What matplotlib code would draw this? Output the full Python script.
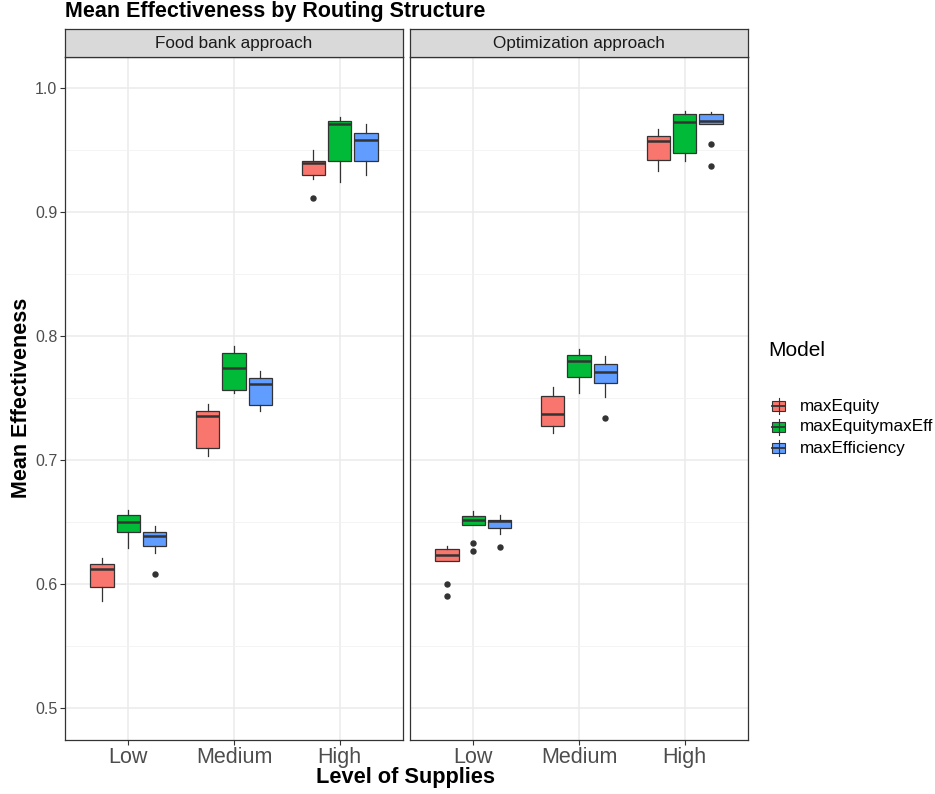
import matplotlib
matplotlib.use("Agg")
import matplotlib.pyplot as plt
from matplotlib.patches import Rectangle
from matplotlib.lines import Line2D

plt.rcParams['font.family'] = ['Liberation Sans', 'DejaVu Sans']

# ---- data ----
panels = ["Food bank approach", "Optimization approach"]
levels = ["Low", "Medium", "High"]
models = ["maxEquity", "maxEquitymaxEff", "maxEfficiency"]
colors = ["#F8766D", "#00BA38", "#619CFF"]

# each list indexed [level][model]
fb_whislo = [[0.586, 0.629, 0.6245], [0.703, 0.754, 0.7395], [0.927, 0.924, 0.930]]
fb_q1     = [[0.597, 0.6417, 0.6304], [0.7094, 0.7565, 0.7441], [0.9296, 0.9414, 0.941]]
fb_med    = [[0.6121, 0.6498, 0.6382], [0.735, 0.7745, 0.7613], [0.940, 0.9713, 0.958]]
fb_q3     = [[0.6159, 0.6554, 0.642], [0.7393, 0.7863, 0.7659], [0.9414, 0.9734, 0.964]]
fb_whishi = [[0.6204, 0.6597, 0.6465], [0.7452, 0.7919, 0.772], [0.950, 0.9764, 0.971]]
fb_fliers = [[[], [], [0.6078]], [[], [], []], [[0.9116], [], []]]

op_whislo = [[0.618, 0.6473, 0.6398], [0.7213, 0.754, 0.7511], [0.9334, 0.9411, 0.9713]]
op_q1     = [[0.618, 0.6473, 0.645], [0.7272, 0.7667, 0.7624], [0.9423, 0.9476, 0.9713]]
op_med    = [[0.6229, 0.6512, 0.6503], [0.7371, 0.7801, 0.7713], [0.9578, 0.9724, 0.9734]]
op_q3     = [[0.6277, 0.6546, 0.6514], [0.7519, 0.7847, 0.7774], [0.9618, 0.9793, 0.9793]]
op_whishi = [[0.6306, 0.6584, 0.6554], [0.7586, 0.7893, 0.7836], [0.9672, 0.9817, 0.981]]
op_fliers = [[[0.5997, 0.5903], [0.6328, 0.6261], [0.6296]], [[], [], [0.7336]], [[], [], [0.9554, 0.9371]]]

panel_stats = [
    (fb_whislo, fb_q1, fb_med, fb_q3, fb_whishi, fb_fliers),
    (op_whislo, op_q1, op_med, op_q3, op_whishi, op_fliers),
]

yticks = [0.5, 0.6, 0.7, 0.8, 0.9, 1.0]
yminor = [0.55, 0.65, 0.75, 0.85, 0.95]

# ---- figure ----
W, H = 935, 794
fig = plt.figure(figsize=(W / 100, H / 100), dpi=100)

def fx(px):
    return px / W

def fy(py):
    return 1 - py / H

edge = "#333333"
grid_major = "#EBEBEB"
panel_lefts = [65, 410]
panel_w = 338
top_px, bot_px = 57.3, 739.5
strip_top = 29.3

offsets = [-0.25, 0.0, 0.25]
box_w = 0.22

axes = []
for p, (wlo, q1, med, q3, whi, fl) in enumerate(panel_stats):
    ax = fig.add_axes([fx(panel_lefts[p]), fy(bot_px), fx(panel_w), (bot_px - top_px) / H])
    axes.append(ax)
    ax.set_xlim(0.4, 3.6)
    ax.set_ylim(0.4742, 1.0250)
    ax.set_yticks(yticks)
    ax.set_yticks(yminor, minor=True)
    ax.set_xticks([1, 2, 3])
    ax.set_xticklabels(levels)
    ax.grid(True, which="major", color=grid_major, linewidth=1.1, zorder=0)
    ax.grid(True, which="minor", axis="y", color="#F2F2F2", linewidth=0.6, zorder=0)
    ax.set_axisbelow(True)
    for s in ax.spines.values():
        s.set_color(edge)
        s.set_linewidth(0.9)
    ax.tick_params(axis="both", which="major", color=edge, length=3.5, width=0.8,
                   labelcolor="#4D4D4D")
    ax.tick_params(axis="y", which="minor", length=0)
    ax.tick_params(axis="x", labelsize=15.5, pad=2)
    ax.tick_params(axis="y", labelsize=11.5, pad=2)
    if p == 1:
        ax.tick_params(axis="y", which="both", left=False, labelleft=False)

    for li in range(len(levels)):
        for mi in range(len(models)):
            st = dict(whislo=wlo[li][mi], q1=q1[li][mi], med=med[li][mi],
                      q3=q3[li][mi], whishi=whi[li][mi], fliers=fl[li][mi])
            ax.bxp([st], positions=[li + 1 + offsets[mi]], widths=box_w,
                   patch_artist=True, showcaps=False, manage_ticks=False,
                   boxprops=dict(facecolor=colors[mi], edgecolor=edge, linewidth=0.9),
                   whiskerprops=dict(color=edge, linewidth=0.9),
                   medianprops=dict(color=edge, linewidth=1.8),
                   flierprops=dict(marker="o", markerfacecolor=edge, markeredgecolor=edge,
                                   markersize=3.6, linestyle="none"))

    # strip
    sax = fig.add_axes([fx(panel_lefts[p]), fy(top_px), fx(panel_w), (top_px - strip_top) / H])
    sax.set_facecolor("#D9D9D9")
    sax.set_xticks([])
    sax.set_yticks([])
    for s in sax.spines.values():
        s.set_color(edge)
        s.set_linewidth(0.9)
    sax.text(0.5, 0.5, panels[p], ha="center", va="center", fontsize=12.3,
             color="#1A1A1A", transform=sax.transAxes)

# titles
fig.text(fx(65), fy(12), "Mean Effectiveness by Routing Structure", ha="left", va="center",
         fontsize=15.5, fontweight="bold", color="black")
fig.text(fx(406), fy(778), "Level of Supplies", ha="center", va="center",
         fontsize=15.7, fontweight="bold", color="black")
fig.text(fx(22), fy(398), "Mean Effectiveness", ha="center", va="center", rotation=90,
         fontsize=15.5, fontweight="bold", color="black")

# legend (ggplot style boxplot keys)
fig.text(fx(768), fy(351), "Model", ha="left", va="center", fontsize=15, color="black")
key_rows = [406, 427, 448]
for mi, m in enumerate(models):
    cy = key_rows[mi]
    fig.add_artist(Line2D([fx(778.5), fx(778.5)], [fy(cy - 8), fy(cy + 8)],
                          color=edge, linewidth=0.8, transform=fig.transFigure))
    fig.add_artist(Rectangle((fx(772), fy(cy + 5)), fx(13), 10 / H, facecolor=colors[mi],
                             edgecolor=edge, linewidth=0.8, transform=fig.transFigure))
    fig.add_artist(Line2D([fx(772), fx(785)], [fy(cy), fy(cy)], color=edge, linewidth=1.3,
                          transform=fig.transFigure))
    fig.text(fx(800), fy(cy), m, ha="left", va="center", fontsize=12.3, color="black")

fig.savefig("out.png", dpi=100, facecolor="white")
